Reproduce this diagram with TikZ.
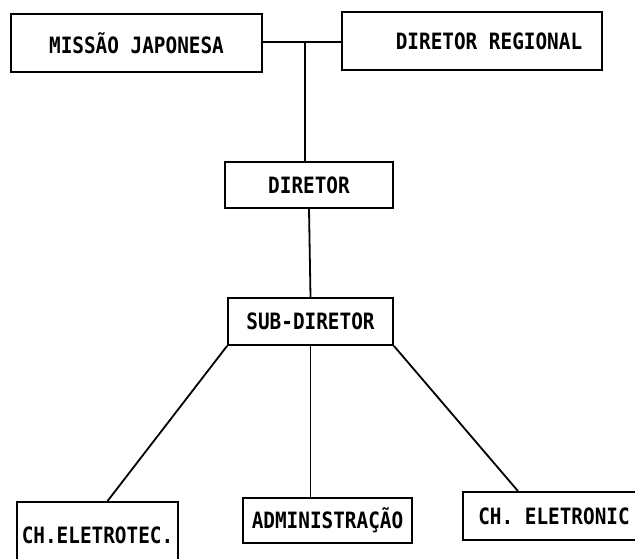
\documentclass[tikz,border=0pt]{standalone}
\usepackage{fontspec}
\setmonofont[FakeStretch=0.86]{DejaVu Sans Mono}
\usetikzlibrary{positioning,calc}

\begin{document}
\begin{tikzpicture}[x=1pt,y=-1pt,
        unit/.style={draw,line width=1.8pt,rectangle,inner sep=0pt,
            font=\ttfamily\bfseries\fontsize{22.5}{26}\selectfont},
        link/.style={line width=1.8pt}]
    \useasboundingbox (0,0) rectangle (635,558);

    % Top level
    \node[unit,minimum width=251pt,minimum height=58pt] (missao) at (136.5,43) {MISSÃO JAPONESA};
    \node[unit,minimum width=260pt,minimum height=58pt] (regional) at (472,41) {\hspace*{34pt}DIRETOR REGIONAL};
    \coordinate (junc) at (305,42);
    \draw[link] (missao.east |- junc) -- (regional.west |- junc);

    % Direction
    \node[unit,minimum width=168pt,minimum height=46pt] (diretor) at (309,185) {DIRETOR};
    \node[unit,minimum width=165pt,minimum height=47pt] (subdir) at (310.5,321.5) {SUB-DIRETOR};
    \draw[link] (junc) -- (junc |- diretor.north);
    \draw[link] (diretor.south) -- (subdir.north);

    % Departments
    \node[unit,minimum width=161pt,minimum height=66pt] (eletrotec) at (97.5,535) {CH.ELETROTEC.};
    \node[unit,minimum width=169pt,minimum height=45pt] (admin) at (327.5,520.5) {ADMINISTRAÇÃO};
    \node[unit,minimum width=182pt,minimum height=48pt] (eletronic) at (554,516) {CH. ELETRONIC};
    \draw[link] (subdir.south west) -- ([xshift=10pt]eletrotec.north);
    \draw[link] (subdir.south) -- (subdir.south |- admin.north);
    \draw[link] (subdir.south east) -- ([xshift=-36pt]eletronic.north);
\end{tikzpicture}
\end{document}
